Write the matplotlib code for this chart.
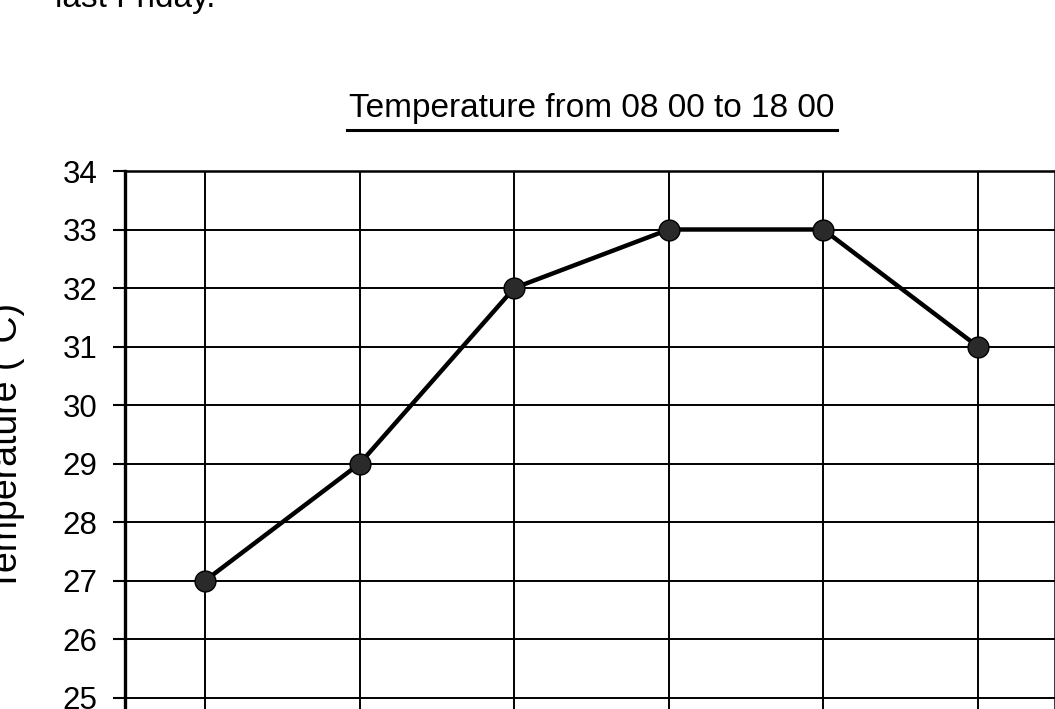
import matplotlib
matplotlib.use("Agg")
import matplotlib.pyplot as plt
from matplotlib.lines import Line2D

# data
times = ["08 00", "10 00", "12 00", "14 00", "16 00", "18 00"]
temps = [27, 29, 32, 33, 33, 31]
y_ticks = [25, 26, 27, 28, 29, 30, 31, 32, 33, 34]

plt.rcParams['font.family'] = ['Liberation Sans', 'DejaVu Sans']

W, H = 1055, 709
fig = plt.figure(figsize=(W / 100, H / 100), dpi=100)

def px(x, y):
    # pixel (from top-left) -> figure fraction
    return x / W, 1 - y / H

# axes box: left spine at x=125, top (34) at y=171, one degree = 58.5 px
left, top = 125, 171
right = 1055
deg = 58.5
ylo, yhi = 24, 34
bottom = top + (yhi - ylo) * deg
ax = fig.add_axes([left / W, 1 - bottom / H, (right - left) / W, (bottom - top) / H])

x = list(range(len(times)))
ax.plot(x, temps, color='black', lw=3.2, marker='o', markersize=15,
        markerfacecolor='#2a2a2a', markeredgecolor='black', zorder=3)

ax.set_xlim(-0.52, len(times) - 0.5)
ax.set_ylim(ylo, yhi)
ax.set_yticks(y_ticks)
ax.set_xticks(x)
ax.set_xticklabels(times)
ax.grid(True, color='black', lw=1.4)
ax.set_axisbelow(True)
ax.tick_params(axis='y', labelsize=22.5, length=9, width=1.5, pad=11, color='black')
# the time labels sit below the scanned area
ax.tick_params(axis='x', length=0, labelbottom=False)
ax.spines['left'].set_linewidth(2.4)
ax.spines['top'].set_linewidth(1.8)
ax.spines['right'].set_linewidth(1.8)
ax.spines['bottom'].set_linewidth(1.8)

# title, underlined
tx, ty = px(592, 117)
title = fig.text(tx, ty, "Temperature from 08 00 to 18 00", fontsize=24,
                 ha='center', va='baseline')
fig.canvas.draw()
bb = title.get_window_extent().transformed(fig.transFigure.inverted())
uy = px(0, 130)[1]
fig.add_artist(Line2D([bb.x0 - 0.002, bb.x1 + 0.002], [uy, uy], color='black',
                      lw=2.2, transform=fig.transFigure))

# y axis label, partly cut off at the left edge
lx, ly = px(25, 447)
fig.text(lx, ly, "Temperature (°C)", fontsize=27, rotation=90,
         ha='right', va='center')

# last line of the worksheet text above, mostly cut off
sx, sy = px(55, 7)
fig.text(sx, sy, "last Friday.", fontsize=24, ha='left', va='baseline')

fig.savefig("out.png", dpi=100)
